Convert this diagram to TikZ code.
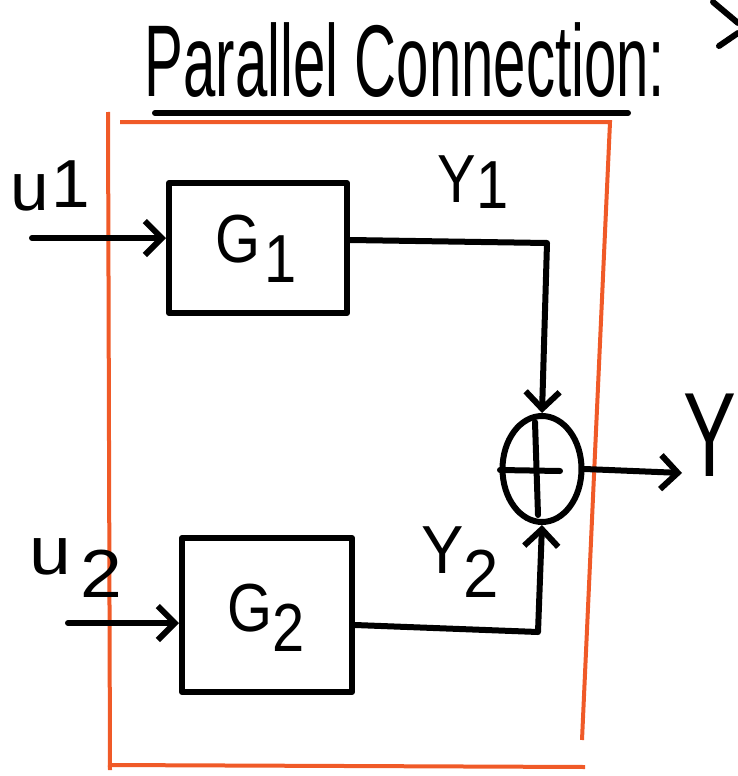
\documentclass[tikz,border=0pt]{standalone}
\usepackage{fontspec}
\setmainfont{Liberation Sans}
\usetikzlibrary{arrows.meta,shapes.geometric}
\definecolor{frameorange}{RGB}{240,90,40}
\begin{document}
\begin{tikzpicture}[x=1pt,y=-1pt,
  ink/.style={line width=6pt, line cap=round, line join=round},
  frameline/.style={draw=frameorange, line width=4pt},
  block/.style={draw, ink, rectangle, inner sep=0pt},
  tip/.style={-{Straight Barb[length=17pt,width=34pt]}},
  lbl/.style={inner sep=0pt, font=\fontsize{68}{68}\selectfont, xscale=0.85}
]
\useasboundingbox (0,0) rectangle (738,776);

% title
\node[inner sep=0pt, font=\fontsize{102}{102}\selectfont, xscale=0.57] (title) at (405,60) {Parallel Connection:};
\coordinate (ul1) at (155,113);
\coordinate (ul2) at (628,113);
\draw[ink] (ul1) -- (ul2);
% cut-off stroke at top right
\coordinate (ca) at (713,2);
\coordinate (cb) at (738,23);
\coordinate (cc) at (719,46);
\coordinate (cd) at (738,33);
\draw[ink] (ca) -- (cb);
\draw[ink] (cc) -- (cd);

% orange frame
\coordinate (f1) at (108,112);
\coordinate (f2) at (110,770);
\coordinate (f3) at (120,122);
\coordinate (f4) at (610,122);
\coordinate (f5) at (582,740);
\coordinate (f6) at (108,765);
\coordinate (f7) at (585,767);
\draw[frameline] (f1) -- (f2);
\draw[frameline] (f3) -- (f4) -- (f5);
\draw[frameline] (f6) -- (f7);

% blocks
\node[block, minimum width=178pt, minimum height=130pt] (G1) at (258,248) {};
\node[lbl] (G1t) at (256,249) {G\hspace{4pt}\raisebox{-0.3em}{1}};
\node[block, minimum width=170pt, minimum height=154pt] (G2) at (267,615) {};
\node[lbl] (G2t) at (266,618) {G\raisebox{-0.3em}{2}};

% summing junction
\node[ellipse, draw, ink, minimum width=79pt, minimum height=106pt, inner sep=0pt] (sum) at (542,469) {};
\coordinate (p1) at (535,422);
\coordinate (p2) at (538,515);
\coordinate (p3) at (500,470);
\coordinate (p4) at (560,471);
\draw[ink] (p1) -- (p2);
\draw[ink] (p3) -- (p4);

% inputs
\coordinate (u1s) at (32,238);
\draw[ink,tip] (u1s) -- (u1s -| G1.west);
\node[lbl, xscale=1.2] (lu1) at (50,186) {u\hspace{2pt}\raisebox{0.05em}{1}};
\coordinate (u2s) at (68,623);
\draw[ink,tip] (u2s) -- (u2s -| G2.west);
\node[lbl, xscale=1.3] (lu2) at (76,568) {u\hspace{8pt}\raisebox{-0.35em}{2}};

% outputs of blocks
\coordinate (o1) at (0,240);
\coordinate (c1) at (547,243);
\draw[ink,tip] (G1.east |- o1) -- (c1) -- (sum.north);
\node[lbl] (ly1) at (473,182) {Y\raisebox{-0.08em}{1}};

\coordinate (o2) at (0,625);
\coordinate (c2) at (538,632);
\draw[ink,tip] (G2.east |- o2) -- (c2) -- (sum.south);
\node[lbl, xscale=1.1] (ly2) at (460,562) {Y\raisebox{-0.35em}{2}};

% overall output
\coordinate (yout) at (682,473);
\draw[ink,tip] (sum.east) -- (yout);
\node[inner sep=0pt, font=\fontsize{120}{120}\selectfont, xscale=0.66] (ly) at (710,435) {Y};
\end{tikzpicture}
\end{document}
